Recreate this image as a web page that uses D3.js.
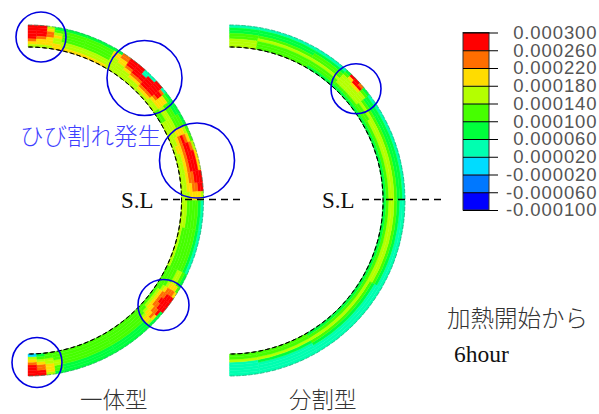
<!DOCTYPE html>
<html>
<head>
<meta charset="utf-8">
<script src="https://cdnjs.cloudflare.com/ajax/libs/d3/7.8.5/d3.min.js"></script>
<style>
html, body { margin: 0; padding: 0; background: #fff; overflow: hidden; }
</style>
</head>
<body>
<div id="chart"></div>
<script>
// legend ticks and colours (strain, top to bottom)
var legendTicks = [0.0003, 0.00026, 0.00022, 0.00018, 0.00014, 0.0001, 0.00006, 0.00002, -0.00002, -0.00006, -0.0001];
var bandColors = ["#0000ff", "#0078ff", "#00dcff", "#00ffb0", "#00ff3c", "#46ff00", "#b4ff00", "#ffdc00", "#ff6e00", "#ff0000"];

// left ring: station end angle (degrees from the top end), strain in 1e-6, outer layer first
var leftAngles = [3, 6.5, 9, 12, 20, 30, 33, 36, 39, 42, 44, 47, 50, 52, 55, 60, 64, 67, 70, 73, 76, 80, 84, 87, 90, 100, 115, 120, 122, 124, 126, 128, 130, 132, 134, 136, 150, 168, 171, 174, 177, 180];
var leftStrain = [
    [280, 280, 280, 280, 280, 240, 200, 160],
    [280, 280, 280, 280, 240, 200, 200, 160],
    [160, 200, 240, 240, 200, 200, 200, 160],
    [80, 120, 160, 200, 160, 160, 200, 200],
    [80, 120, 120, 120, 120, 160, 160, 200],
    [80, 120, 120, 120, 120, 160, 160, 200],
    [80, 200, 200, 160, 160, 160, 160, 160],
    [240, 240, 200, 200, 160, 160, 160, 160],
    [280, 280, 280, 240, 200, 160, 160, 160],
    [280, 280, 280, 280, 240, 200, 160, 160],
    [40, 40, 280, 280, 240, 200, 160, 160],
    [40, 280, 280, 280, 280, 240, 200, 160],
    [280, 280, 280, 280, 280, 240, 200, 160],
    [40, 240, 280, 280, 240, 200, 160, 160],
    [80, 120, 200, 200, 200, 200, 160, 160],
    [80, 80, 120, 120, 160, 160, 120, 120],
    [80, 120, 120, 120, 160, 160, 160, 160],
    [120, 160, 200, 200, 200, 160, 160, 160],
    [120, 200, 240, 280, 240, 200, 160, 160],
    [160, 240, 280, 280, 240, 200, 200, 160],
    [200, 280, 280, 280, 240, 200, 160, 160],
    [200, 280, 280, 280, 240, 200, 160, 160],
    [280, 280, 280, 240, 240, 200, 160, 160],
    [280, 280, 240, 240, 200, 200, 160, 160],
    [160, 200, 200, 200, 200, 160, 160, 160],
    [40, 80, 120, 120, 120, 120, 160, 160],
    [40, 80, 120, 120, 120, 120, 120, 160],
    [80, 120, 160, 160, 120, 120, 120, 120],
    [120, 200, 200, 200, 160, 120, 120, 120],
    [200, 240, 240, 240, 200, 160, 120, 120],
    [280, 280, 280, 240, 240, 200, 160, 120],
    [280, 280, 280, 280, 240, 200, 160, 120],
    [280, 280, 280, 240, 240, 200, 160, 120],
    [80, 280, 240, 240, 200, 200, 160, 120],
    [80, 200, 240, 200, 200, 160, 120, 120],
    [80, 160, 200, 200, 160, 120, 120, 120],
    [80, 80, 80, 120, 120, 120, 120, 120],
    [80, 80, 80, 120, 120, 120, 120, 120],
    [80, 120, 120, 160, 160, 120, 120, 120],
    [160, 200, 200, 200, 160, 160, 120, 120],
    [280, 280, 240, 240, 200, 160, 120, 80],
    [280, 280, 280, 280, 240, 200, 160, 0]
];

// right ring, same layout
var rightAngles = [10, 30, 42, 44, 46, 48, 50, 53, 60, 90, 120, 150, 170, 180];
var rightStrain = [
    [40, 80, 80, 120, 120, 160, 160, 160],
    [40, 80, 80, 120, 160, 120, 120, 120],
    [40, 80, 120, 120, 160, 120, 120, 80],
    [80, 120, 160, 160, 160, 160, 120, 80],
    [280, 200, 160, 160, 160, 160, 120, 80],
    [280, 280, 200, 160, 160, 160, 120, 80],
    [240, 280, 200, 160, 160, 160, 120, 80],
    [80, 120, 160, 160, 160, 160, 120, 80],
    [40, 80, 80, 120, 160, 120, 120, 80],
    [40, 80, 80, 120, 160, 160, 120, 80],
    [40, 40, 80, 120, 160, 160, 120, 80],
    [40, 40, 40, 80, 120, 160, 120, 80],
    [40, 40, 40, 40, 80, 160, 120, 120],
    [40, 40, 40, 40, 40, 160, 120, 120]
];

var svg = d3.select("#chart").append("svg")
    .attr("width", 599)
    .attr("height", 414)
    .style("display", "block");

var color = d3.scaleThreshold()
    .domain(legendTicks.slice(1, 10).map(function (d) { return d * 1e6; }).reverse())
    .range(bandColors);

var angle = d3.scaleLinear().domain([0, 180]).range([0, Math.PI]);
var depth = d3.scaleLinear().domain([0, 8]).range([175.5, 153.5]);
var arc = d3.arc();

// func for one ring, cells of strain in polar grid
function drawRing(cx, cy, angles, strain) {
    var g = svg.append("g").attr("transform", "translate(" + cx + "," + cy + ")");
    var cells = [];
    angles.forEach(function (a, i) {
        strain[i].forEach(function (v, j) {
            cells.push({ a0: i ? angles[i - 1] : 0, a1: a, layer: j, value: v });
        });
    });
    g.selectAll(".cell")
        .data(cells)
        .join("path")
        .attr("class", "cell")
        .attr("fill", function (d) { return color(d.value); })
        .attr("stroke", function (d) { return color(d.value); })
        .attr("stroke-width", 0.4)
        .attr("d", function (d) {
            return arc({
                startAngle: angle(d.a0),
                endAngle: angle(d.a1),
                innerRadius: depth(d.layer + 1),
                outerRadius: depth(d.layer)
            });
        });

    // jagged dark edges of the mesh
    var edge = function (r) {
        return arc({ startAngle: 0, endAngle: Math.PI, innerRadius: r, outerRadius: r });
    };
    g.append("path").attr("d", edge(depth(8)))
        .attr("fill", "none").attr("stroke", "#000").attr("stroke-width", 1)
        .attr("stroke-dasharray", "4 3");
    g.append("path").attr("d", edge(depth(0)))
        .attr("fill", "none").attr("stroke", "#0a8a60").attr("stroke-width", 0.6)
        .attr("stroke-dasharray", "2 4");
}

drawRing(28, 200.5, leftAngles, leftStrain);
drawRing(229.5, 200.5, rightAngles, rightStrain);

// crack circles
var cracks = [[41, 37, 25], [144.5, 78, 37.5], [197, 160.5, 37.5], [163.5, 305, 25.5], [37, 362.5, 25], [356, 88.7, 25]];
svg.selectAll(".crack")
    .data(cracks)
    .join("circle")
    .attr("class", "crack")
    .attr("cx", function (d) { return d[0]; })
    .attr("cy", function (d) { return d[1]; })
    .attr("r", function (d) { return d[2]; })
    .attr("fill", "none")
    .attr("stroke", "#0000e0")
    .attr("stroke-width", 1.6);

// S.L dashed lines
[[161, 240, 121], [362, 441, 322]].forEach(function (d) {
    svg.append("line")
        .attr("x1", d[0]).attr("x2", d[1]).attr("y1", 199.5).attr("y2", 199.5)
        .attr("stroke", "#000").attr("stroke-width", 1.5)
        .attr("stroke-dasharray", "7 5");
    svg.append("text")
        .attr("x", d[2]).attr("y", 207.5)
        .attr("font-family", "Liberation Serif")
        .attr("font-size", 23)
        .attr("fill", "#111")
        .text("S.L");
});

// legend
var legendY = d3.scaleLinear().domain([-0.0001, 0.0003]).range([210, 32.5]);
svg.selectAll(".band")
    .data(bandColors)
    .join("rect")
    .attr("class", "band")
    .attr("x", 463)
    .attr("width", 26)
    .attr("y", function (d, i) { return legendY(legendTicks[9 - i]); })
    .attr("height", function (d, i) { return legendY(legendTicks[10 - i]) - legendY(legendTicks[9 - i]); })
    .attr("fill", function (d) { return d; });

svg.append("rect")
    .attr("x", 463).attr("y", 32.5).attr("width", 26).attr("height", 177.5)
    .attr("fill", "none").attr("stroke", "#333").attr("stroke-width", 1);

var legendAxis = d3.axisRight(legendY)
    .tickValues(legendTicks)
    .tickSize(35)
    .tickPadding(15)
    .tickFormat(function (d) { return d3.format(".6f")(d).replace("\u2212", "-"); });

svg.append("g")
    .attr("transform", "translate(463,0)")
    .call(legendAxis)
    .call(function (g) { g.select(".domain").remove(); })
    .call(function (g) { g.selectAll("line").attr("stroke", "#000"); })
    .call(function (g) {
        g.selectAll("text")
            .attr("x", 134.5)
            .attr("text-anchor", "end")
            .attr("font-family", "Liberation Sans")
            .attr("font-size", 18.5)
            .attr("letter-spacing", 0.9)
            .attr("fill", "#555");
    });

// titles
var titles = [
    { text: "ひび割れ発生", x: 20, y: 145, size: 23.5, fill: "#3f3fff", family: "Noto Sans CJK JP" },
    { text: "一体型", x: 80, y: 407.5, size: 22.5, fill: "#333", family: "Noto Sans CJK JP" },
    { text: "分割型", x: 289, y: 407.5, size: 22.5, fill: "#333", family: "Noto Sans CJK JP" },
    { text: "加熱開始から", x: 447, y: 327, size: 23.5, fill: "#333", family: "Noto Sans CJK JP" },
    { text: "6hour", x: 454, y: 362, size: 23.5, fill: "#111", family: "Liberation Serif" }
];
svg.selectAll(".title")
    .data(titles)
    .join("text")
    .attr("class", "title")
    .attr("x", function (d) { return d.x; })
    .attr("y", function (d) { return d.y; })
    .attr("font-size", function (d) { return d.size; })
    .attr("font-family", function (d) { return d.family; })
    .attr("font-weight", 300)
    .attr("fill", function (d) { return d.fill; })
    .text(function (d) { return d.text; });
</script>
</body>
</html>
